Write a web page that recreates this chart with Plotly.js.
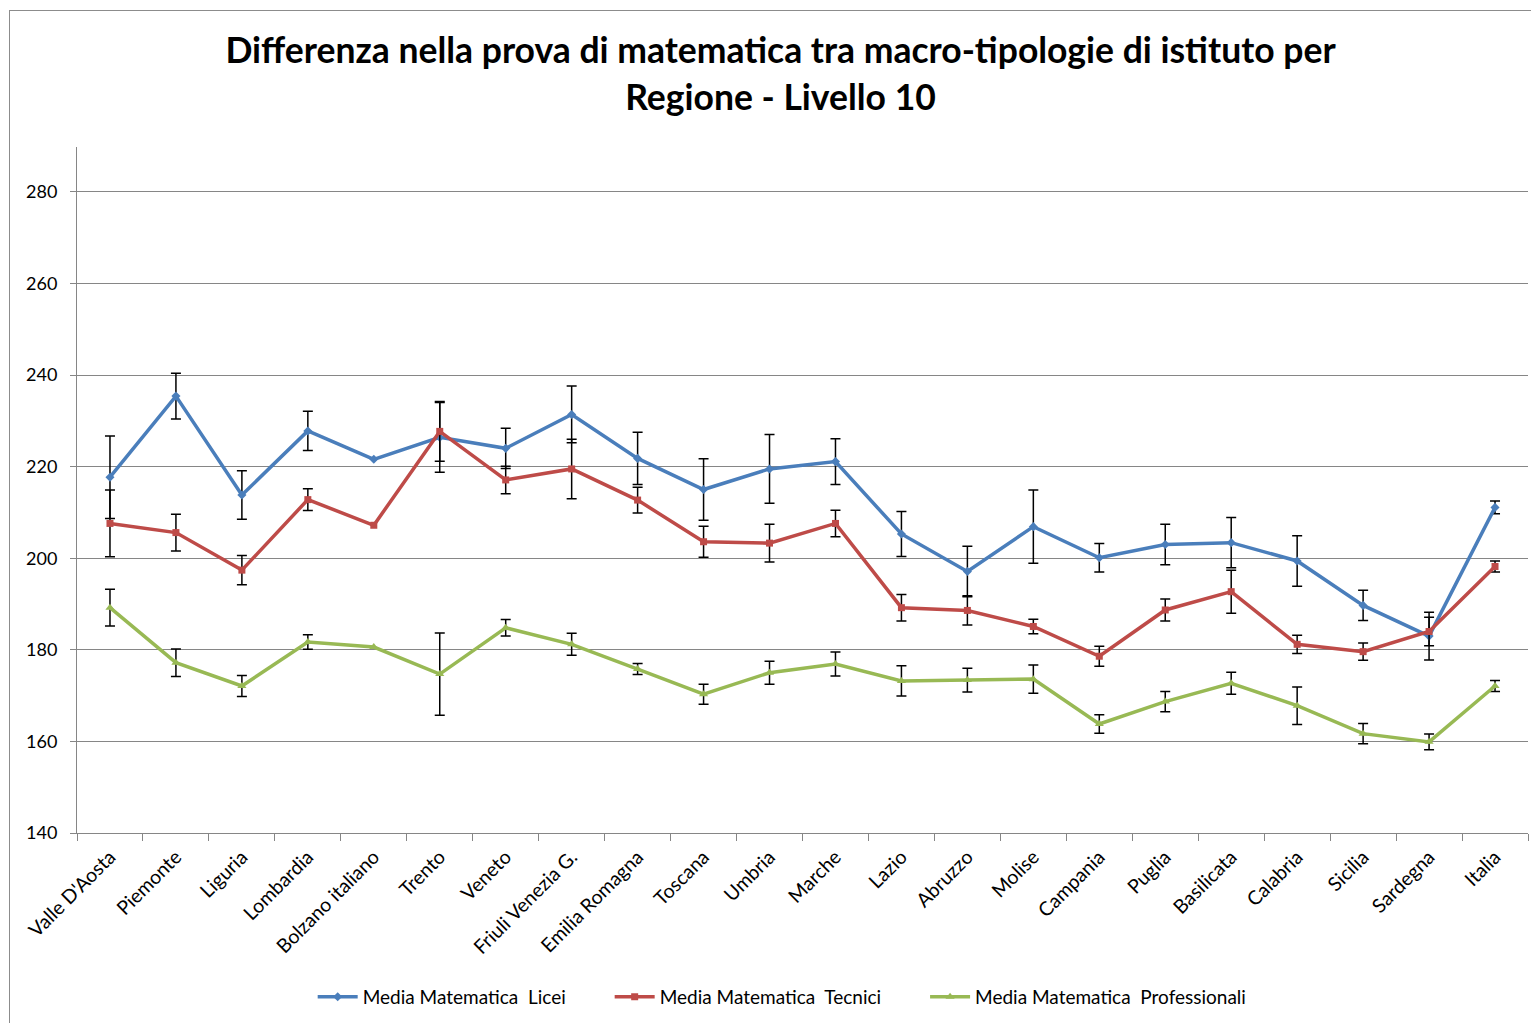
<!DOCTYPE html>
<html>
<head>
<meta charset="utf-8">
<script src="https://cdn.plot.ly/plotly-3.0.1.min.js"></script>
<style>
  body { margin: 0; background: #fff; }
  #chart { position: absolute; left: 0; top: 0; width: 1531px; height: 1023px; }
  #frame { position: absolute; left: 9px; top: 10px; width: 1600px; height: 1100px; border: 1px solid #8c8c8c; pointer-events: none; }
</style>
</head>
<body>
<div id="chart"></div>
<div id="frame"></div>
<script>
const regions = ["Valle D'Aosta", "Piemonte", "Liguria", "Lombardia", "Bolzano italiano", "Trento", "Veneto",
  "Friuli Venezia G.", "Emilia Romagna", "Toscana", "Umbria", "Marche", "Lazio", "Abruzzo", "Molise",
  "Campania", "Puglia", "Basilicata", "Calabria", "Sicilia", "Sardegna", "Italia"];

const licei =        [217.7, 235.4, 213.8, 227.8, 221.6, 226.4, 224.0, 231.4, 221.8, 215.0, 219.5, 221.1, 205.3, 197.1, 206.9, 200.1, 203.0, 203.4, 199.4, 189.7, 183.0, 211.1];
const erroreLicei =  [9.0, 5.0, 5.3, 4.3, NaN, 7.6, 4.4, 6.2, 5.7, 6.7, 7.5, 5.0, 4.9, 5.5, 8.0, 3.1, 4.4, 5.5, 5.5, 3.3, 5.2, 1.4];

const tecnici =      [207.6, 205.6, 197.4, 212.8, 207.2, 227.7, 217.1, 219.5, 212.7, 203.6, 203.3, 207.6, 189.2, 188.6, 185.1, 178.6, 188.7, 192.7, 181.2, 179.6, 184.0, 198.2];
const erroreTecnici = [7.3, 4.0, 3.2, 2.4, NaN, 6.5, 3.0, 6.5, 2.8, 3.4, 4.1, 2.9, 2.9, 3.2, 1.6, 2.2, 2.4, 4.7, 2.0, 1.9, 3.1, 1.2];

const professionali = [189.2, 177.2, 172.1, 181.7, 180.6, 174.7, 184.8, 181.2, 175.8, 170.3, 175.0, 176.9, 173.2, 173.4, 173.6, 163.8, 168.7, 172.7, 167.8, 161.7, 159.9, 172.1];
const erroreProfessionali = [4.0, 3.0, 2.3, 1.6, NaN, 9.0, 1.8, 2.4, 1.2, 2.2, 2.5, 2.6, 3.3, 2.6, 3.1, 2.0, 2.2, 2.4, 4.1, 2.2, 1.7, 1.2];

const seriesNames = ["Media Matematica\u00a0 Licei", "Media Matematica\u00a0 Tecnici", "Media Matematica\u00a0 Professionali"];
const yTicks = [140, 160, 180, 200, 220, 240, 260, 280];

const FONT = "Lato, 'Open Sans', sans-serif";
const PAD = "\u00a0".repeat(8);

function errBars(arr) {
  return { type: 'data', array: arr, symmetric: true, visible: true, color: '#000000', thickness: 1.5, width: 5 };
}

const traces = [
  { x: regions, y: licei, name: seriesNames[0] + PAD, type: 'scatter', mode: 'lines+markers',
    line: { color: '#4a7ebb', width: 3.5 }, marker: { symbol: 'diamond', size: 7, color: '#4a7ebb' },
    error_y: errBars(erroreLicei) },
  { x: regions, y: tecnici, name: seriesNames[1] + PAD, type: 'scatter', mode: 'lines+markers',
    line: { color: '#be4b48', width: 3.5 }, marker: { symbol: 'square', size: 7, color: '#be4b48' },
    error_y: errBars(erroreTecnici) },
  { x: regions, y: professionali, name: seriesNames[2], type: 'scatter', mode: 'lines+markers',
    line: { color: '#98b954', width: 3.5 }, marker: { symbol: 'triangle-up', size: 8, color: '#98b954' },
    error_y: errBars(erroreProfessionali) }
];

const layout = {
  width: 1531, height: 1023,
  margin: { l: 77, r: 3, t: 147, b: 190 },
  paper_bgcolor: '#ffffff', plot_bgcolor: '#ffffff',
  font: { family: FONT, color: '#000000' },
  title: {
    text: '<b>Differenza nella prova di matematica tra macro-tipologie di istituto per<br>Regione - Livello 10</b>',
    font: { family: FONT, size: 35.5, color: '#000000' },
    x: 0.5098, xanchor: 'center', xref: 'container',
    y: 0.938, yanchor: 'middle', yref: 'container'
  },
  xaxis: {
    type: 'category', range: [-0.5, 21.5],
    tickangle: -45, tickson: 'boundaries', ticks: 'outside', ticklen: 7, tickcolor: '#868686',
    ticklabelstandoff: 4,
    showline: true, linecolor: '#868686', linewidth: 1, showgrid: false,
    tickfont: { family: FONT, size: 19.5, color: '#000000' }, fixedrange: true
  },
  yaxis: {
    range: [140, 289.8], tickvals: yTicks, ticks: 'outside', ticklen: 6, tickcolor: '#868686',
    ticklabelstandoff: 9,
    showline: true, linecolor: '#868686', linewidth: 1,
    showgrid: true, gridcolor: '#868686', gridwidth: 1, zeroline: false,
    tickfont: { family: FONT, size: 18, color: '#000000' }, fixedrange: true
  },
  legend: {
    orientation: 'h', x: 0.486, xanchor: 'center', y: -0.239, yanchor: 'middle',
    font: { family: FONT, size: 19, color: '#000000' }, itemwidth: 40, tracegroupgap: 0
  },
  showlegend: true
};

Plotly.newPlot('chart', traces, layout, { displayModeBar: false, staticPlot: true });
</script>
</body>
</html>
